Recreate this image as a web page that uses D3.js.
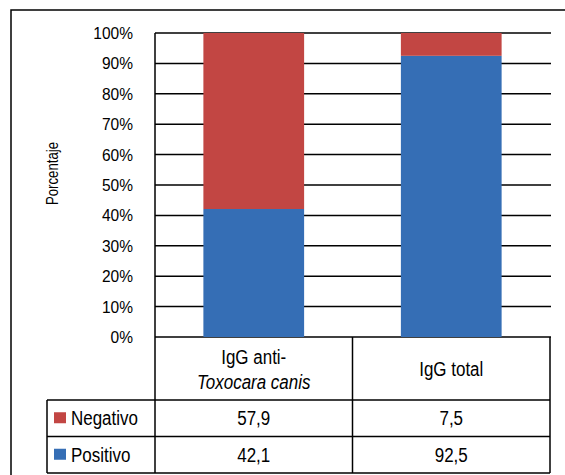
<!DOCTYPE html>
<html>
<head>
<meta charset="utf-8">
<script src="https://cdn.jsdelivr.net/npm/d3@7"></script>
<style>
  html, body { margin: 0; padding: 0; background: #fff; }
  svg { display: block; }
  text { font-family: "Liberation Sans", Arial, sans-serif; fill: #000; }
</style>
</head>
<body>
<svg id="chart" width="565" height="475"></svg>
<script>
// Chart data
const categories = ["IgG anti-Toxocara canis", "IgG total"];
const headerLines = [["IgG anti-", "Toxocara canis"], ["IgG total"]];
const seriesNames = ["Negativo", "Positivo"];
const positivo = [42.1, 92.5];
const negativo = [57.9, 7.5];
const valueLabels = { Negativo: ["57,9", "7,5"], Positivo: ["42,1", "92,5"] };
const yTicks = [0, 10, 20, 30, 40, 50, 60, 70, 80, 90, 100];
const colors = { Positivo: "#356EB5", Negativo: "#C24643" };

const svg = d3.select("#chart");

// text in a condensed face: a regular face squeezed horizontally
function label(parent, x, y, size, squeeze, rotate) {
  const rot = rotate ? ` rotate(${rotate})` : "";
  return parent.append("text")
    .attr("transform", `translate(${x},${y})${rot} scale(${squeeze},1)`)
    .attr("dy", "0.36em")
    .style("font-size", size + "px");
}

// frame
svg.append("rect")
  .attr("x", 11).attr("y", 10).attr("width", 620).attr("height", 520)
  .attr("fill", "none").attr("stroke", "#000").attr("stroke-width", 1.5);

const plot = { left: 155, right: 550, top: 33, bottom: 337 };
const y = d3.scaleLinear().domain([0, 100]).range([plot.bottom, plot.top]);
const xCol = d3.scaleBand().domain(categories).range([plot.left, plot.right]);
const xBar = d3.scaleBand().domain(categories).range([plot.left, plot.right])
  .paddingInner(0.49).paddingOuter(0.245);

// gridlines
svg.append("g").selectAll("line").data(yTicks).join("line")
  .attr("x1", plot.left).attr("x2", plot.right + 1)
  .attr("y1", d => y(d)).attr("y2", d => y(d))
  .attr("stroke", "#000").attr("stroke-width", 1.5);

// tick labels
const tickG = svg.append("g");
yTicks.forEach(d => {
  label(tickG, 133, y(d), 16.5, 0.94).attr("text-anchor", "end").text(d + "%");
});

// y axis title
label(svg, 52.5, 173.5, 16.5, 0.8, -90).attr("text-anchor", "middle").text("Porcentaje");

// stacked bars
const stackData = categories.map((c, i) => ({ cat: c, Positivo: positivo[i], Negativo: negativo[i] }));
const stacked = d3.stack().keys(["Positivo", "Negativo"])(stackData);
svg.append("g").selectAll("g").data(stacked).join("g")
  .attr("fill", s => colors[s.key])
  .selectAll("rect").data(s => s).join("rect")
  .attr("x", d => xBar(d.data.cat))
  .attr("width", xBar.bandwidth())
  .attr("y", d => y(d[1]))
  .attr("height", d => y(d[0]) - y(d[1]));

// y axis line (continues through the table header)
const table = { left: 47, headerBottom: 400, rowH: 36.5 };
const tableBottom = table.headerBottom + table.rowH * seriesNames.length;
svg.append("line")
  .attr("x1", plot.left).attr("x2", plot.left)
  .attr("y1", plot.top).attr("y2", tableBottom)
  .attr("stroke", "#000").attr("stroke-width", 1.5);

// data table
const tg = svg.append("g");
const lineAttrs = sel => sel.attr("stroke", "#000").attr("stroke-width", 1.5);

// column dividers
categories.forEach(c => {
  const xr = xCol(c) + xCol.bandwidth();
  tg.append("line").call(lineAttrs)
    .attr("x1", xr).attr("x2", xr).attr("y1", plot.bottom).attr("y2", tableBottom);
});
// row lines
const rowTops = seriesNames.map((s, i) => table.headerBottom + i * table.rowH);
rowTops.concat([tableBottom]).forEach(yy => {
  tg.append("line").call(lineAttrs)
    .attr("x1", table.left).attr("x2", plot.right).attr("y1", yy).attr("y2", yy);
});
tg.append("line").call(lineAttrs)
  .attr("x1", table.left).attr("x2", table.left)
  .attr("y1", table.headerBottom).attr("y2", tableBottom);

const cellSize = 19.5, cellSqueeze = 0.87;

// header labels
categories.forEach((c, i) => {
  const lines = headerLines[i];
  const cx = xCol(c) + xCol.bandwidth() / 2;
  const mid = (plot.bottom + table.headerBottom) / 2 + 0.5;
  const lh = 25;
  lines.forEach((t, j) => {
    label(tg, cx, mid + (j - (lines.length - 1) / 2) * lh, cellSize, cellSqueeze)
      .attr("text-anchor", "middle")
      .style("font-style", t === "Toxocara canis" ? "italic" : "normal")
      .text(t);
  });
});

// series rows
seriesNames.forEach((s, i) => {
  const cy = rowTops[i] + table.rowH / 2;
  tg.append("rect")
    .attr("x", 54).attr("y", cy - 6).attr("width", 12).attr("height", 11)
    .attr("fill", colors[s]);
  label(tg, 71, cy, cellSize, cellSqueeze).text(s);
  categories.forEach((c, k) => {
    label(tg, xCol(c) + xCol.bandwidth() / 2, cy, cellSize, cellSqueeze)
      .attr("text-anchor", "middle")
      .text(valueLabels[s][k]);
  });
});
</script>
</body>
</html>
